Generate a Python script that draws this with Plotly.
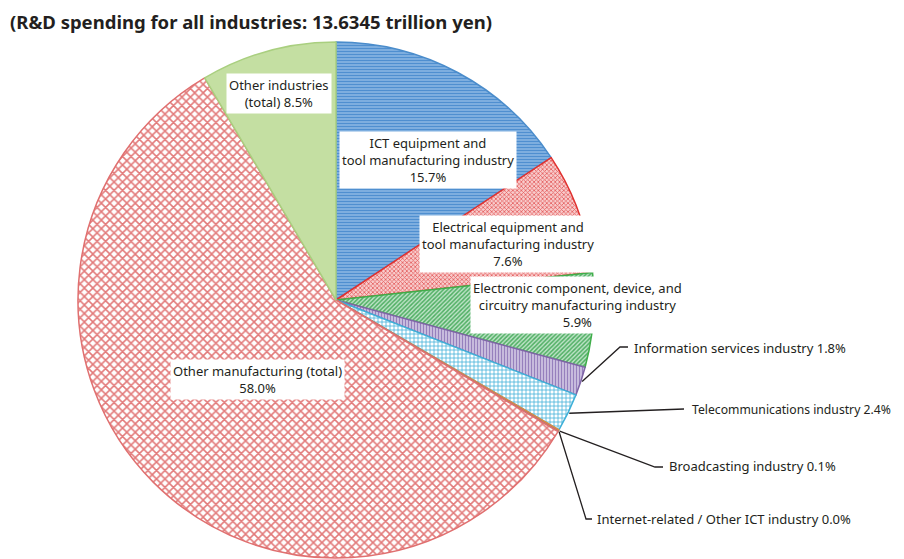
import math
import plotly.graph_objects as go

W, H = 904, 559
OFF = 8  # page body margin in the browser

# ---- data ----
labels = [
    'ICT equipment and tool manufacturing industry',
    'Electrical equipment and tool manufacturing industry',
    'Electronic component, device, and circuitry manufacturing industry',
    'Information services industry',
    'Telecommunications industry',
    'Broadcasting industry',
    'Internet-related / Other ICT industry',
    'Other manufacturing (total)',
    'Other industries (total)',
]
shares = [15.7, 7.6, 5.9, 1.8, 2.4, 0.1, 0.02, 58.0, 8.5]
shown = ['15.7%', '7.6%', '5.9%', '1.8%', '2.4%', '0.1%', '0.0%', '58.0%', '8.5%']

bg_colors = ['#9cc3ea', '#f8cccc', '#bfe4c8', '#d8cfe8', '#ffffff', '#f4a460', '#9a9a9a', '#ffffff', '#c4dfa2']
fg_colors = ['#4f8fd0', '#e45c5c', '#4eae62', '#9680bd', '#3fb0d8', '#e08a40', '#808080', '#e27a7a', '#c4dfa2']
edge_colors = ['#4a8ccb', '#e0312f', '#3fae4a', '#7f65a6', '#3fb0d8', '#e08a40', '#808080', '#e07070', '#a9cf7f']
shapes_pat = ['-', 'x', '/', '|', '+', '', '', 'x', '']
sizes_pat = [3, 3, 3, 3, 4, 4, 4, 6, 4]
solid_pat = [0.6, 0.45, 0.5, 0.5, 0.35, 0.3, 0.3, 0.45, 0.3]

FONT = 'Noto Sans'
TXT = '#231f20'

# pie geometry in pixels (screen)
cx, cy, R = 336, 300, 258


def px(x, y):
    return (x - OFF) / W, 1 - (y - OFF) / H


fig = go.Figure(go.Pie(
    labels=labels,
    values=shares,
    sort=False,
    direction='clockwise',
    rotation=0,
    textinfo='none',
    hoverinfo='label',
    showlegend=False,
    domain=dict(x=[px(cx - R, 0)[0], px(cx + R, 0)[0]],
                y=[px(0, cy + R)[1], px(0, cy - R)[1]]),
    marker=dict(
        colors=bg_colors,
        line=dict(color=edge_colors, width=1.5),
        pattern=dict(shape=shapes_pat, fgcolor=fg_colors, bgcolor=bg_colors,
                     size=sizes_pat, solidity=solid_pat, fillmode='replace'),
    ),
))


def slice_tip(i):
    total = sum(shares)
    start = sum(shares[:i]) / total
    mid = start + shares[i] / total / 2
    a = mid * 2 * math.pi
    return cx + R * 1.005 * math.sin(a), cy - R * 1.005 * math.cos(a)


annotations = []

# boxed labels inside the pie
boxed = [
    (0, 'ICT equipment and<br>tool manufacturing industry<br>' + shown[0], 428, 160),
    (1, 'Electrical equipment and<br>tool manufacturing industry<br>' + shown[1], 508, 244),
    (2, 'Electronic component, device, and<br>circuitry manufacturing industry<br>' + shown[2], 577, 305),
    (7, 'Other manufacturing (total)<br>' + shown[7], 257, 379),
    (8, 'Other industries<br>(total) ' + shown[8], 279, 93),
]
for i, txt, x, y in boxed:
    xp, yp = px(x, y)
    annotations.append(dict(
        x=xp, y=yp, xref='paper', yref='paper', text=txt, showarrow=False,
        xanchor='center', yanchor='middle',
        font=dict(family=FONT, size=13, color=TXT), bgcolor='white',
        borderpad=2, align='center',
    ))

# outside labels with leader lines: (slice, text-left x, y, font size, elbow points)
outside = [
    (3, 632, 348, 13, [(628, 347), (620, 347)]),
    (4, 690, 409, 12.2, [(684, 409)]),
    (5, 667, 466, 13, [(663, 467), (655, 467)]),
    (6, 595, 519, 13, [(592, 519), (586, 519)]),
]
shapes = []
for i, tx, ty, fs, elbow in outside:
    name = labels[i] + ' ' + shown[i]
    xp, yp = px(tx, ty)
    annotations.append(dict(
        x=xp, y=yp, xref='paper', yref='paper', text=name, showarrow=False,
        xanchor='left', yanchor='middle', font=dict(family=FONT, size=fs, color=TXT),
    ))
    pts = elbow + [slice_tip(i)]
    path = 'M ' + ' L '.join(f'{px(a, b)[0]:.5f},{px(a, b)[1]:.5f}' for a, b in pts)
    shapes.append(dict(type='path', xref='paper', yref='paper', path=path,
                       line=dict(color='#231f20', width=1.3)))

# title
annotations.append(dict(
    x=px(8, 21)[0], y=px(8, 21)[1], xref='paper', yref='paper',
    text='<b>(R&D spending for all industries: 13.6345 trillion yen)</b>',
    showarrow=False, xanchor='left', yanchor='middle',
    font=dict(family=FONT, size=18.5, color=TXT),
))

fig.update_layout(
    width=W, height=H,
    margin=dict(l=0, r=0, t=0, b=0),
    paper_bgcolor='white', plot_bgcolor='white',
    annotations=annotations,
    shapes=shapes,
)

fig.write_html('out.html')
